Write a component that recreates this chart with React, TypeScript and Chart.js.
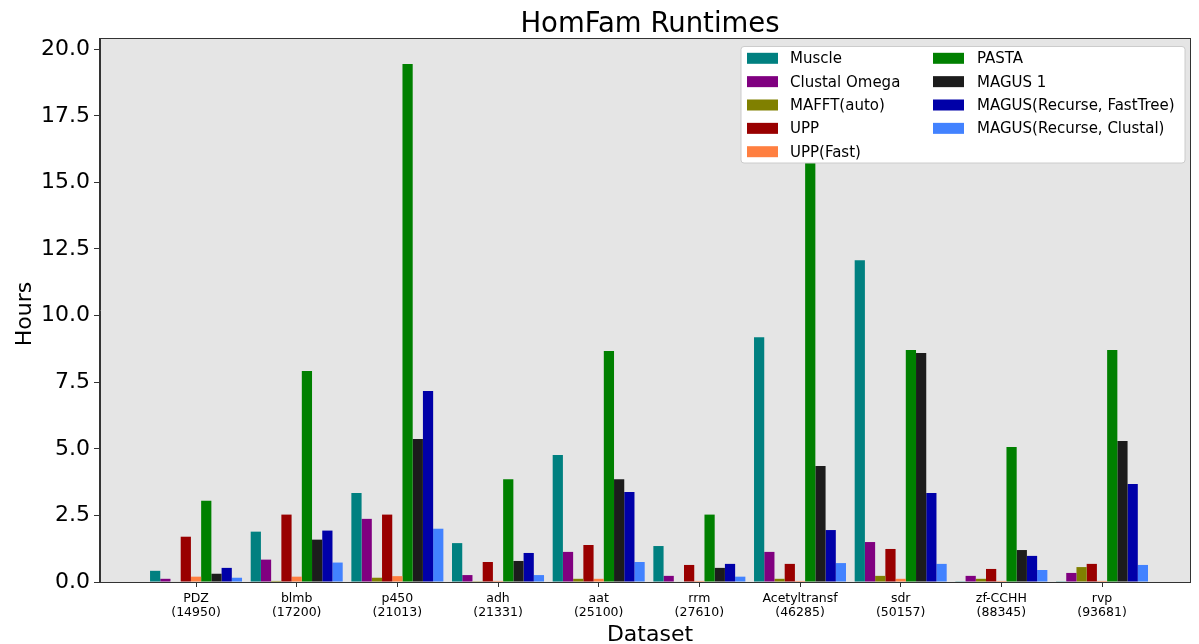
import React, { useEffect, useRef } from 'react';
import { Chart, registerables } from 'chart.js';

Chart.register(...registerables);

const FONT = '"DejaVu Sans", sans-serif';

const categories = ['PDZ', 'blmb', 'p450', 'adh', 'aat', 'rrm', 'Acetyltransf', 'sdr', 'zf-CCHH', 'rvp'];
const familySizes = ['(14950)', '(17200)', '(21013)', '(21331)', '(25100)', '(27610)', '(46285)', '(50157)', '(88345)', '(93681)'];

const seriesNames = [
  'Muscle',
  'Clustal Omega',
  'MAFFT(auto)',
  'UPP',
  'UPP(Fast)',
  'PASTA',
  'MAGUS 1',
  'MAGUS(Recurse, FastTree)',
  'MAGUS(Recurse, Clustal)',
];
const seriesColors = ['#008080', '#800080', '#808000', '#990000', '#ff7f40', '#008000', '#1c1c1c', '#0000a8', '#4282ff'];

const muscle = [0.42, 1.89, 3.34, 1.46, 4.77, 1.35, 9.19, 12.08, 0.01, 0.01];
const clustalOmega = [0.12, 0.84, 2.37, 0.26, 1.13, 0.23, 1.13, 1.5, 0.23, 0.34];
const mafftAuto = [0.02, 0.04, 0.16, 0.03, 0.12, 0.02, 0.12, 0.23, 0.12, 0.56];
const upp = [1.7, 2.53, 2.53, 0.75, 1.39, 0.64, 0.68, 1.24, 0.49, 0.68];
const uppFast = [0.2, 0.2, 0.22, 0.04, 0.12, 0.04, 0.04, 0.12, 0.04, 0.04];
const pasta = [3.05, 7.92, 19.44, 3.86, 8.67, 2.53, 16.0, 8.71, 5.07, 8.71];
const magus1 = [0.31, 1.59, 5.37, 0.79, 3.86, 0.53, 4.35, 8.6, 1.2, 5.29];
const magusRecurseFastTree = [0.53, 1.93, 7.17, 1.09, 3.38, 0.68, 1.95, 3.34, 0.98, 3.68];
const magusRecurseClustal = [0.16, 0.73, 2.0, 0.26, 0.75, 0.2, 0.71, 0.68, 0.45, 0.64];

const seriesValues = [muscle, clustalOmega, mafftAuto, upp, uppFast, pasta, magus1, magusRecurseFastTree, magusRecurseClustal];

const yTicks = [0, 2.5, 5, 7.5, 10, 12.5, 15, 17.5, 20];

const decorPlugin = {
  id: 'decor',
  beforeDraw(chart: any) {
    const { ctx, chartArea: a } = chart;
    ctx.save();
    ctx.fillStyle = '#e5e5e5';
    ctx.fillRect(a.left, a.top, a.right - a.left, a.bottom - a.top);
    ctx.restore();
  },
  afterDraw(chart: any) {
    const { ctx, chartArea: a } = chart;
    ctx.save();
    // frame
    ctx.strokeStyle = '#333333';
    ctx.lineWidth = 1;
    ctx.strokeRect(Math.round(a.left) - 0.5, Math.round(a.top) + 0.5, Math.round(a.right - a.left) + 1, Math.round(a.bottom - a.top));

    // title
    ctx.fillStyle = '#000';
    ctx.font = `27.5px ${FONT}`;
    ctx.textAlign = 'center';
    ctx.textBaseline = 'alphabetic';
    ctx.fillText('HomFam Runtimes', (a.left + a.right) / 2 + 5, 32);

    // axis titles
    ctx.font = `22px ${FONT}`;
    ctx.fillText('Dataset', (a.left + a.right) / 2 + 5, 641);
    ctx.save();
    ctx.translate(31, 314);
    ctx.rotate(-Math.PI / 2);
    ctx.fillText('Hours', 0, 0);
    ctx.restore();

    // legend
    const bx = 741, by = 46.5, bw = 444, bh = 116.5, r = 3;
    ctx.beginPath();
    ctx.moveTo(bx + r, by);
    ctx.lineTo(bx + bw - r, by);
    ctx.quadraticCurveTo(bx + bw, by, bx + bw, by + r);
    ctx.lineTo(bx + bw, by + bh - r);
    ctx.quadraticCurveTo(bx + bw, by + bh, bx + bw - r, by + bh);
    ctx.lineTo(bx + r, by + bh);
    ctx.quadraticCurveTo(bx, by + bh, bx, by + bh - r);
    ctx.lineTo(bx, by + r);
    ctx.quadraticCurveTo(bx, by, bx + r, by);
    ctx.closePath();
    ctx.fillStyle = '#ffffff';
    ctx.fill();
    ctx.strokeStyle = '#cccccc';
    ctx.stroke();

    const swatchX = [747, 933];
    const textX = [790, 977];
    ctx.font = `15px ${FONT}`;
    ctx.textAlign = 'left';
    ctx.textBaseline = 'middle';
    chart.data.datasets.forEach((ds: any, i: number) => {
      const col = i < 5 ? 0 : 1;
      const row = i < 5 ? i : i - 5;
      const cy = 58.3 + row * 23.35;
      ctx.fillStyle = ds.backgroundColor;
      ctx.fillRect(swatchX[col], cy - 5.5, 31, 11);
      ctx.fillStyle = '#000';
      ctx.fillText(ds.label, textX[col], cy + 1);
    });
    ctx.restore();
  },
};

export default function App() {
  const canvasRef = useRef<HTMLCanvasElement | null>(null);

  useEffect(() => {
    document.body.style.margin = '0';
    const canvas = canvasRef.current;
    if (!canvas) return;
    const chart = new Chart(canvas, {
      type: 'bar',
      data: {
        datasets: seriesNames.map((name, si) => ({
          label: name,
          data: seriesValues[si].map((v, ci) => ({ x: ci, y: v })),
          backgroundColor: seriesColors[si],
          borderWidth: 0,
          categoryPercentage: 0.914,
          barPercentage: 1.0,
        })),
      },
      options: {
        responsive: false,
        maintainAspectRatio: false,
        animation: false,
        devicePixelRatio: 1,
        layout: { padding: { left: 0, right: 9, top: 38, bottom: 0 } },
        plugins: {
          legend: { display: false },
          title: { display: false },
          tooltip: { enabled: false },
        },
        scales: {
          x: {
            type: 'linear',
            min: -0.954,
            max: 9.874,
            offset: false,
            afterFit: (s: any) => {
              s.height = 62;
            },
            afterBuildTicks: (s: any) => {
              s.ticks = categories.map((_, i) => ({ value: i }));
            },
            ticks: {
              autoSkip: false,
              maxRotation: 0,
              minRotation: 0,
              padding: 5,
              color: '#000',
              font: { family: FONT, size: 12.5, lineHeight: 1.12 },
              callback: (v: any) => [categories[Number(v)], familySizes[Number(v)]],
            },
            grid: { offset: false, drawOnChartArea: false, drawTicks: true, tickLength: 5, color: '#333333', lineWidth: 1 },
            border: { display: true, color: '#333333', width: 1 },
          },
          y: {
            min: 0,
            max: 20.42,
            afterFit: (s: any) => {
              s.width = 100;
            },
            afterBuildTicks: (s: any) => {
              s.ticks = yTicks.map((v) => ({ value: v }));
            },
            ticks: {
              padding: 4,
              color: '#000',
              font: { family: FONT, size: 22 },
              callback: (v: any) => Number(v).toFixed(1),
            },
            grid: { drawOnChartArea: false, drawTicks: true, tickLength: 6, color: '#333333', lineWidth: 1 },
            border: { display: true, color: '#333333', width: 1 },
          },
        },
      },
      plugins: [decorPlugin],
    } as any);
    return () => chart.destroy();
  }, []);

  return (
    <div style={{ position: 'absolute', left: 0, top: 0, width: 1199, height: 644 }}>
      <canvas ref={canvasRef} width={1199} height={644} style={{ display: 'block', width: 1199, height: 644 }} />
    </div>
  );
}
